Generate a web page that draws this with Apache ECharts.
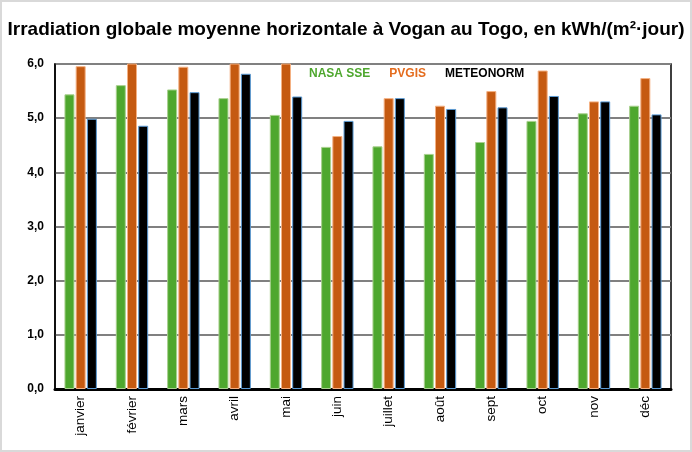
<!DOCTYPE html>
<html><head><meta charset="utf-8">
<script src="https://cdn.jsdelivr.net/npm/echarts@6/dist/echarts.min.js"></script>
<style>
html,body{margin:0;padding:0;background:#fff;}
#c{width:692px;height:452px;box-sizing:border-box;border:2px solid #d9d9d9;}
</style></head>
<body><div id="c"></div>
<script>
const months = ['janvier','février','mars','avril','mai','juin','juillet','août','sept','oct','nov','déc'];
const nasaSSE = [5.44,5.61,5.53,5.37,5.06,4.47,4.48,4.34,4.56,4.95,5.09,5.23];
const pvgis = [5.96,6.12,5.95,6.10,6.15,4.67,5.37,5.23,5.50,5.88,5.31,5.74];
const meteonorm = [4.99,4.86,5.48,5.82,5.40,4.95,5.37,5.17,5.20,5.41,5.31,5.07];
const yTicks = ['0,0','1,0','2,0','3,0','4,0','5,0','6,0'];

const chart = echarts.init(document.getElementById('c'));
chart.setOption({
  animation:false,
  title:{text:'Irradiation globale moyenne horizontale à Vogan au Togo, en kWh/(m²·jour)',left:'center',top:13,
    textStyle:{fontFamily:'Liberation Sans',fontWeight:'bold',fontSize:19,color:'#000'}},
  legend:{top:61,left:296,itemWidth:0,itemHeight:0,itemGap:13,
    textStyle:{fontFamily:'Liberation Sans',fontWeight:'bold',fontSize:12},
    data:[{name:'NASA SSE',textStyle:{color:'#4ea72e'}},{name:'PVGIS',textStyle:{color:'#e46c1e'}},{name:'METEONORM',textStyle:{color:'#000'}}]},
  grid:{left:53,right:19,top:62,bottom:61,show:true,borderColor:'#000',borderWidth:1.5},
  xAxis:{type:'category',data:months,
    axisLine:{lineStyle:{color:'#000',width:3}},axisTick:{show:false},
    axisLabel:{rotate:90,fontFamily:'Liberation Sans',fontSize:13.5,color:'#000',margin:7}},
  yAxis:{type:'value',min:0,max:6,interval:1,
    axisLine:{show:true,lineStyle:{color:'#000',width:1.5}},axisTick:{show:false},
    splitLine:{lineStyle:{color:'#808080',width:2}},
    axisLabel:{fontFamily:'Liberation Sans',fontWeight:'bold',fontSize:12,color:'#000',margin:11,
      formatter:(v)=>yTicks[Math.round(v)]}},
  series:[
    {name:'NASA SSE',type:'bar',data:nasaSSE,barWidth:10,barGap:'12%',clip:true,
      itemStyle:{color:'#4ea72e',borderColor:'#a9d18e',borderWidth:1}},
    {name:'PVGIS',type:'bar',data:pvgis,barWidth:10,barGap:'12%',clip:true,
      itemStyle:{color:'#c55a11',borderColor:'#f4b183',borderWidth:1}},
    {name:'METEONORM',type:'bar',data:meteonorm,barWidth:10,barGap:'12%',clip:true,
      itemStyle:{color:'#000',borderColor:'#5b9bd5',borderWidth:1}}
  ]
});
</script></body></html>
